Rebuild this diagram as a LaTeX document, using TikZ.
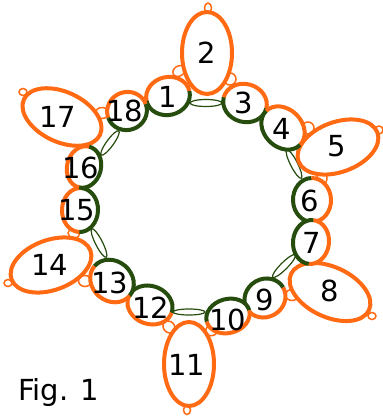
\documentclass[tikz,border=0pt]{standalone}
\usepackage{fontspec}
\setmainfont{DejaVu Sans}
\definecolor{ora}{HTML}{FF6A13}
\definecolor{grn}{HTML}{264D0E}
\newcommand{\lbl}[3]{\node[numtxt] (n#1) at (#2pt,-#3pt) {#1};}
\newcommand{\bigring}[5]{\draw[bigline,shift={(#1pt,-#2pt)},rotate=#5] (0,0) ellipse[x radius=#3pt,y radius=#4pt];}
\newcommand{\splitring}[7]{\begin{scope}[shift={(#1pt,-#2pt)},rotate=#5]
\fill[white] (0,0) ellipse[x radius=#3pt,y radius=#4pt];
\draw[ringline,#6] (#3pt,0) arc[start angle=0,end angle=180,x radius=#3pt,y radius=#4pt];
\draw[ringline,#7] (-#3pt,0) arc[start angle=180,end angle=360,x radius=#3pt,y radius=#4pt];
\end{scope}}
\newcommand{\oloop}[5]{\draw[orangeloop,shift={(#1pt,-#2pt)},rotate=#5] (0,0) ellipse[x radius=#3pt,y radius=#4pt];}
\newcommand{\gloop}[5]{\draw[greenloop,shift={(#1pt,-#2pt)},rotate=#5] (0,0) ellipse[x radius=#3pt,y radius=#4pt];}
\tikzset{
 numtxt/.style={inner sep=0pt,font=\fontsize{29}{29}\selectfont,text=black},
 bigline/.style={draw=ora,line width=4pt,fill=white},
 ringline/.style={line width=4pt},
 orangeloop/.style={draw=ora,line width=1.5pt},
 greenloop/.style={draw=grn,line width=1.2pt}
}
\begin{document}
\begin{tikzpicture}[x=1pt,y=1pt]
\useasboundingbox (0,0) rectangle (383pt,-418pt);
\fill[white] (0,0) rectangle (383pt,-418pt);
% small orange loops behind the rings
\oloop{179}{71}{6.5}{5}{30}
\oloop{230}{79}{6}{6}{0}
\oloop{308}{128}{6}{6}{0}
\oloop{322}{178}{7}{5}{90}
\oloop{292}{295}{6.5}{5.5}{0}
\oloop{212}{330}{6.5}{5.5}{30}
\oloop{169}{327}{6.5}{5.5}{-45}
\oloop{85}{281}{6.5}{5.5}{0}
\oloop{74}{233}{6}{5}{0}
\oloop{102}{113}{6.5}{5.5}{0}
% outer loops
\oloop{208}{8}{3.5}{5}{0}
\oloop{379}{130}{4}{4}{0}
\oloop{372}{316}{4}{3.5}{0}
\oloop{187}{410}{3.5}{4.5}{0}
\oloop{8}{283}{4}{3.5}{0}
\oloop{23}{92}{4}{3.5}{0}
% thin green links
\gloop{206}{103}{16}{3.5}{0}
\gloop{294}{164}{16}{3.5}{-63}
\gloop{284}{266}{16}{3.5}{45}
\gloop{189}{312}{16}{3}{0}
\gloop{99}{243}{16}{3.5}{-63}
\gloop{110}{143}{15}{3.5}{54}
% large ellipses
\bigring{207}{53}{25}{41}{0}
\bigring{338}{147}{42}{25}{20}
\bigring{330}{292}{43}{25}{-25}
\bigring{189}{364}{25}{42}{0}
\bigring{51}{265}{42}{25}{20}
\bigring{62}{117}{42}{25}{-25}
% split rings
\splitring{80}{210}{22}{18}{-92}{grn}{ora}
\splitring{84}{167}{21}{17}{-104}{grn}{ora}
\splitring{168}{96}{22}{19}{13}{ora}{grn}
\splitring{245}{103}{22}{19}{-15}{ora}{grn}
\splitring{283}{128}{24}{19}{-45}{ora}{grn}
\splitring{312}{200}{22}{19}{-88}{ora}{grn}
\splitring{311}{242}{22}{18}{-96}{ora}{grn}
\splitring{265}{298}{21}{19}{30}{grn}{ora}
\splitring{228}{316}{22}{17}{15}{grn}{ora}
\splitring{150}{305}{23}{19}{-20}{grn}{ora}
\splitring{112}{281}{23}{20}{-40}{grn}{ora}
\splitring{127}{111}{20}{19}{20}{ora}{grn}
% labels
\lbl{1}{168}{97}
\lbl{2}{207}{53}
\lbl{3}{244}{103}
\lbl{4}{282}{129}
\lbl{5}{337}{146}
\lbl{6}{310}{201}
\lbl{7}{312}{243}
\lbl{8}{330}{291}
\lbl{9}{265}{300}
\lbl{10}{228}{320}
\lbl{11}{187}{365}
\lbl{12}{151}{308}
\lbl{13}{110}{283}
\lbl{14}{50}{265}
\lbl{15}{77}{210}
\lbl{16}{81}{168}
\lbl{17}{58}{117}
\lbl{18}{125}{111}
\node[inner sep=0pt,anchor=base west,font=\fontsize{29}{29}\selectfont] (fig) at (18pt,-400pt) {Fig. 1};
\end{tikzpicture}
\end{document}
